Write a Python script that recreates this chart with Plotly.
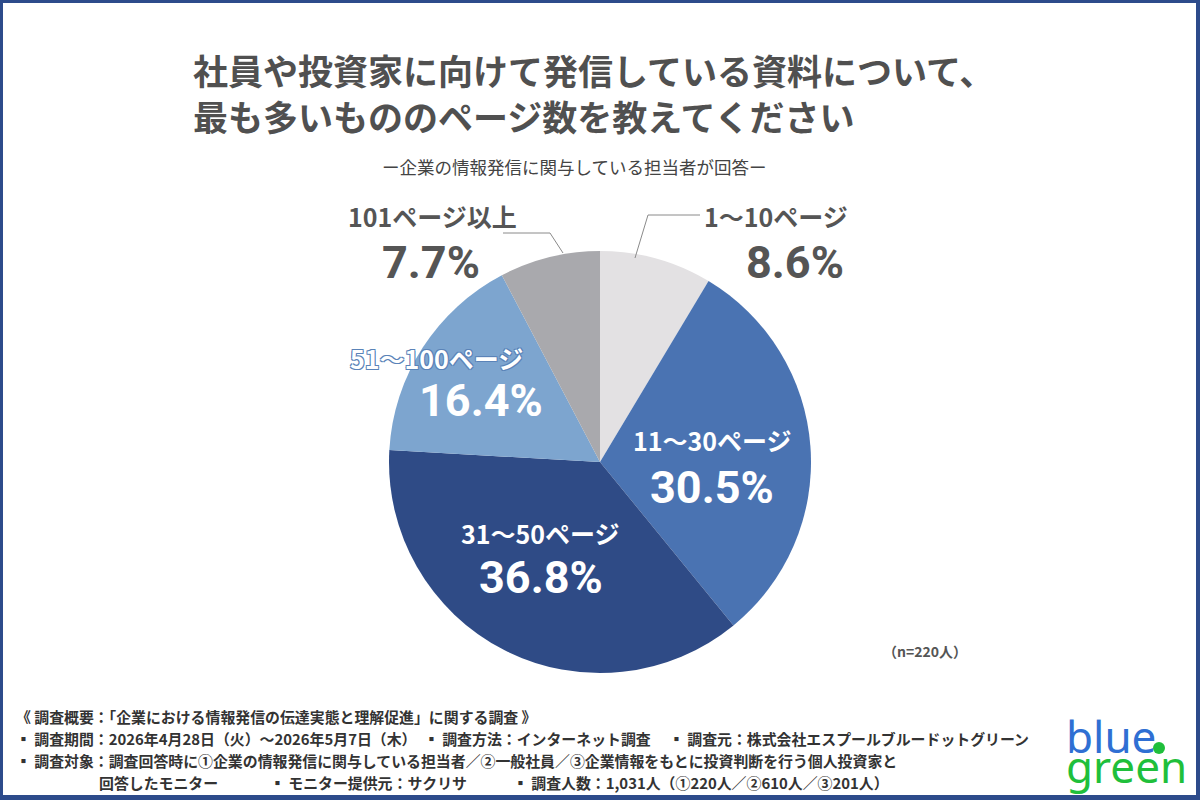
import plotly.graph_objects as go

W, H = 1200, 800

categories = ["1～10ページ", "11～30ページ", "31～50ページ", "51～100ページ", "101ページ以上"]
values = [8.6, 30.5, 36.8, 16.4, 7.7]
colors = ["#e3e1e3", "#4a73b2", "#2f4b86", "#7da5cf", "#a9a9ad"]

title_lines = ["社員や投資家に向けて発信している資料について、", "最も多いもののページ数を教えてください"]
subtitle = "ー企業の情報発信に関与している担当者が回答ー"
n_note = "（n=220人）"
footer_lines = [
    "《 調査概要：「企業における情報発信の伝達実態と理解促進」に関する調査 》",
    "▪ 調査期間：2026年4月28日（火）～2026年5月7日（木）　▪ 調査方法：インターネット調査　 ▪ 調査元：株式会社エスプールブルードットグリーン",
    "▪ 調査対象：調査回答時に①企業の情報発信に関与している担当者／②一般社員／③企業情報をもとに投資判断を行う個人投資家と",
]
footer_last = ["回答したモニター", "▪ モニター提供元：サクリサ", "▪ 調査人数：1,031人（①220人／②610人／③201人）"]


def px(x):
    return x / W


def py(y):
    return 1 - y / H


JP = "Noto Sans CJK JP"
NUM = "Roboto, Noto Sans CJK JP"
TXT = "#555555"
BORDER = "#2d4b8b"

fig = go.Figure()
fig.add_trace(go.Pie(
    labels=categories, values=values, sort=False, direction="clockwise", rotation=0,
    marker=dict(colors=colors, line=dict(width=0)),
    textinfo="none", hoverinfo="label+percent", showlegend=False,
    domain=dict(x=[px(389), px(811)], y=[py(673), py(251)]),
))

ann = []


def add(x, y, text, font, xanchor="center", align="center"):
    ann.append(dict(x=px(x), y=py(y), text=text, xanchor=xanchor, yanchor="middle", align=align,
                    showarrow=False, font=font))


# title (two lines in one text block)
add(191, 93, "<br>".join(f"<b>{t}</b>" for t in title_lines),
    dict(family=JP, size=35, color="#505050"), "left", "left")
add(574, 166, subtitle, dict(family=JP, size=17.5, color="#444444"))

# slice labels: (cx_label, cy_label, cx_pct, cy_pct, color)
label_pos = [
    (776, 216, 795, 262, TXT),
    (712, 440, 712, 487, "#ffffff"),
    (540, 533, 541, 577, "#ffffff"),
    (436, 358, 481, 400, "#ffffff"),
    (432, 216, 431, 262, TXT),
]
for cat, v, (lx, ly, vx, vy, col) in zip(categories, values, label_pos):
    lf = dict(family=JP, size=25, color=col)
    if cat.startswith("51"):
        lf["shadow"] = "1px 1px 0 #5a83b8, -1px -1px 0 #5a83b8, 1px -1px 0 #5a83b8, -1px 1px 0 #5a83b8"
    add(lx, ly, f"<b>{cat}</b>", lf)
    add(vx, vy, f"<b>{v:.1f}%</b>", dict(family=NUM, size=45, color=col))

add(925, 651, f"<b>{n_note}</b>", dict(family=JP, size=14, color="#555555"))

for i, t in enumerate(footer_lines):
    add(14, 716 + 22 * i, f"<b>{t}</b>", dict(family=JP, size=14.9, color="#333333"), "left")
for t, x in zip(footer_last, [97, 268, 511]):
    add(x, 782, f"<b>{t}</b>", dict(family=JP, size=14.9, color="#333333"), "left")

# logo
add(1064, 736, "blue", dict(family="Noto Sans", size=44, color="#2f6fd3"), "left")
add(1064, 766, "green", dict(family="Noto Sans", size=44, color="#1fbf3b"), "left")

shapes = [
    # leader lines
    dict(type="path", path=f"M {px(503)} {py(233)} L {px(550)} {py(233)} L {px(563)} {py(253)}",
         xref="paper", yref="paper", line=dict(color="#8a8a8a", width=1)),
    dict(type="path", path=f"M {px(700)} {py(215)} L {px(648)} {py(215)} L {px(635)} {py(258)}",
         xref="paper", yref="paper", line=dict(color="#8a8a8a", width=1)),
    # logo dot
    dict(type="circle", xref="paper", yref="paper", x0=px(1153), x1=px(1165), y0=py(742), y1=py(754),
         fillcolor="#1fbf3b", line=dict(width=0)),
    # border frame
    dict(type="rect", xref="paper", yref="paper", x0=0, x1=1, y0=py(3), y1=1, fillcolor=BORDER, line=dict(width=0)),
    dict(type="rect", xref="paper", yref="paper", x0=0, x1=px(3), y0=0, y1=1, fillcolor=BORDER, line=dict(width=0)),
    dict(type="rect", xref="paper", yref="paper", x0=px(1196), x1=1, y0=0, y1=1, fillcolor=BORDER, line=dict(width=0)),
    dict(type="rect", xref="paper", yref="paper", x0=0, x1=1, y0=0, y1=py(795), fillcolor=BORDER, line=dict(width=0)),
]

fig.update_layout(
    width=W, height=H, margin=dict(l=0, r=0, t=0, b=0),
    paper_bgcolor="#ffffff", plot_bgcolor="#ffffff",
    annotations=ann, shapes=shapes,
)
fig.write_html("out.html")
